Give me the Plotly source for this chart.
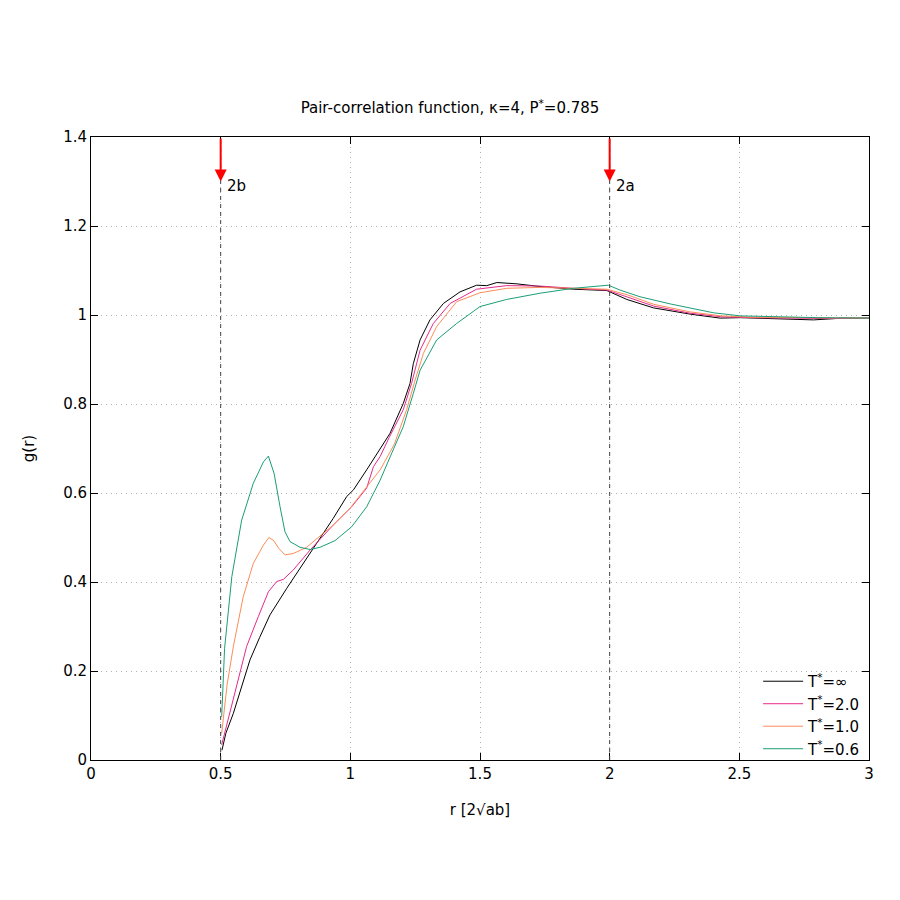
import plotly.graph_objects as go

r_inf = [0.505, 0.52, 0.549, 0.58, 0.613, 0.65, 0.69, 0.755, 0.806, 0.87, 0.934, 0.986, 1.012, 1.063, 1.115, 1.153, 1.204, 1.23, 1.243, 1.269, 1.307, 1.359, 1.423, 1.487, 1.526, 1.565, 1.642, 1.732, 1.86, 1.989, 2.066, 2.169, 2.31, 2.426, 2.503, 2.65, 2.786, 2.9, 3.0]
g_inf = [0.022, 0.06, 0.105, 0.165, 0.225, 0.275, 0.326, 0.386, 0.431, 0.487, 0.543, 0.592, 0.607, 0.652, 0.700, 0.734, 0.801, 0.846, 0.891, 0.944, 0.989, 1.026, 1.052, 1.067, 1.066, 1.073, 1.070, 1.064, 1.058, 1.055, 1.035, 1.016, 1.002, 0.993, 0.994, 0.992, 0.989, 0.993, 0.993]

r_2 = [0.504, 0.549, 0.60, 0.645, 0.684, 0.716, 0.742, 0.78, 0.845, 0.934, 1.005, 1.063, 1.089, 1.115, 1.15, 1.204, 1.236, 1.269, 1.32, 1.385, 1.487, 1.603, 1.732, 1.86, 1.989, 2.07, 2.17, 2.31, 2.43, 2.55, 2.7, 2.85, 3.0]
g_2 = [0.034, 0.135, 0.255, 0.322, 0.378, 0.401, 0.406, 0.427, 0.472, 0.528, 0.569, 0.611, 0.659, 0.682, 0.725, 0.787, 0.846, 0.921, 0.981, 1.026, 1.058, 1.066, 1.065, 1.060, 1.056, 1.040, 1.020, 1.004, 0.996, 0.994, 0.993, 0.992, 0.993]

r_1 = [0.504, 0.525, 0.549, 0.587, 0.626, 0.665, 0.686, 0.703, 0.725, 0.748, 0.78, 0.832, 0.864, 0.934, 0.999, 1.063, 1.115, 1.17, 1.217, 1.25, 1.282, 1.333, 1.41, 1.5, 1.603, 1.732, 1.86, 1.989, 2.07, 2.17, 2.31, 2.43, 2.55, 2.7, 2.85, 3.0]
g_1 = [0.060, 0.17, 0.255, 0.367, 0.442, 0.483, 0.500, 0.494, 0.475, 0.461, 0.464, 0.478, 0.494, 0.528, 0.566, 0.614, 0.652, 0.71, 0.787, 0.854, 0.914, 0.974, 1.030, 1.050, 1.060, 1.062, 1.060, 1.058, 1.045, 1.024, 1.007, 0.998, 0.995, 0.994, 0.993, 0.993]

r_06 = [0.504, 0.515, 0.543, 0.581, 0.626, 0.665, 0.684, 0.706, 0.729, 0.748, 0.767, 0.806, 0.845, 0.883, 0.941, 1.005, 1.063, 1.115, 1.16, 1.204, 1.243, 1.269, 1.333, 1.41, 1.5, 1.603, 1.732, 1.86, 1.995, 2.04, 2.117, 2.233, 2.4, 2.503, 2.657, 2.8, 3.0]
g_06 = [0.097, 0.25, 0.412, 0.539, 0.622, 0.670, 0.683, 0.644, 0.569, 0.513, 0.491, 0.478, 0.473, 0.478, 0.493, 0.524, 0.569, 0.629, 0.69, 0.749, 0.824, 0.876, 0.944, 0.981, 1.019, 1.035, 1.049, 1.060, 1.067, 1.056, 1.041, 1.025, 1.005, 0.998, 0.996, 0.994, 0.993]

series = [
    ("T<sup>*</sup>=∞", r_inf, g_inf, "#000000"),
    ("T<sup>*</sup>=2.0", r_2, g_2, "#e7298a"),
    ("T<sup>*</sup>=1.0", r_1, g_1, "#fc8d59"),
    ("T<sup>*</sup>=0.6", r_06, g_06, "#1b9e77"),
]

marker_x = [0.5, 2.0]
marker_labels = ["2b", "2a"]

font = "DejaVu Sans"
fig = go.Figure()
for name, x, y, c in series:
    fig.add_trace(go.Scatter(x=x, y=y, mode="lines", name=name,
                             line=dict(color=c, width=1)))

for xv, lab in zip(marker_x, marker_labels):
    fig.add_shape(type="line", x0=xv, x1=xv, y0=0, y1=1.4, xref="x", yref="y",
                  line=dict(color="#444444", width=1, dash="4px,4px"))
    fig.add_annotation(x=xv, y=1.3, ax=xv, ay=1.4, xref="x", yref="y",
                       axref="x", ayref="y", text="", showarrow=True,
                       arrowhead=2, arrowsize=1.2, arrowwidth=2, arrowcolor="#ff0000")
    fig.add_annotation(x=xv + 0.015, y=1.29, xref="x", yref="y", text=lab,
                       showarrow=False, xanchor="left", yanchor="middle",
                       font=dict(size=15, color="black", family=font))

axis_common = dict(showline=True, linecolor="black", linewidth=1, mirror="ticks",
                   ticks="inside", ticklen=7, tickcolor="black",
                   showgrid=True, gridcolor="#b0b0b0", griddash="1px,4px", gridwidth=1,
                   zeroline=False, tickfont=dict(size=15, color="black", family=font))

fig.update_xaxes(range=[0, 3], dtick=0.5, tick0=0,
                 title=dict(text="r [2√ab]", font=dict(size=15, family=font, color="black"), standoff=22),
                 **axis_common)
fig.update_yaxes(range=[0, 1.4], dtick=0.2, tick0=0,
                 title=dict(text="g(r)", font=dict(size=15, family=font, color="black"), standoff=24),
                 **axis_common)

fig.update_layout(
    width=900, height=900,
    paper_bgcolor="white", plot_bgcolor="white",
    margin=dict(l=91, r=31, t=137, b=140),
    title=dict(text="Pair-correlation function, κ=4, P<sup>*</sup>=0.785",
               x=0.5, xanchor="center", y=1 - 108 / 900, yanchor="middle",
               font=dict(size=15, family=font, color="black")),
    legend=dict(x=0.995, y=-0.008, xanchor="right", yanchor="bottom",
                bgcolor="rgba(0,0,0,0)", font=dict(size=15, family=font, color="black"),
                itemwidth=40, tracegroupgap=0),
    showlegend=True,
    font=dict(family=font),
)

fig.write_html("out.html")
